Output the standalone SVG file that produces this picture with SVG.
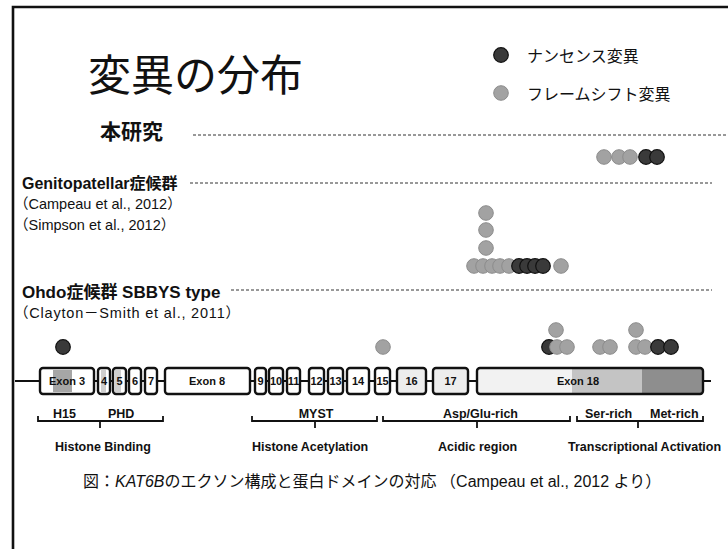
<svg xmlns="http://www.w3.org/2000/svg" width="728" height="549" viewBox="0 0 728 549">
<style>
.jp{font-family:"Noto Sans CJK JP","Liberation Sans",sans-serif;fill:#111}
.lat{font-family:"Liberation Sans","Noto Sans CJK JP",sans-serif;fill:#111}
.b{font-weight:bold}
.ex{font-family:"Liberation Sans",sans-serif;font-weight:bold;font-size:11px;fill:#111;text-anchor:middle}
.dom{font-family:"Liberation Sans",sans-serif;font-weight:bold;font-size:12.5px;fill:#111}
.box{fill:#fff;stroke:#111;stroke-width:2.4}
.lt{fill:#a2a2a2;stroke:#8c8c8c;stroke-width:1}
.dk{fill:#3a3a3a;stroke:#111;stroke-width:1.2}
.dash{stroke:#333;stroke-width:1;stroke-dasharray:3 2;fill:none}
.br{fill:none;stroke:#111;stroke-width:1.8}
</style>
<rect width="728" height="549" fill="#fff"/>
<path d="M13,549 V7 H728" fill="none" stroke="#111" stroke-width="2.6"/>

<g id="title"><text class="jp" x="88" y="91" font-size="43">変異の分布</text></g>

<g id="legend">
<circle class="dk" cx="501" cy="55" r="7.3"/>
<text class="jp" x="527" y="62" font-size="16">ナンセンス変異</text>
<circle class="lt" cx="501" cy="93" r="7.3"/>
<text class="jp" x="527" y="100" font-size="16">フレームシフト変異</text>
</g>

<g id="connectors">
<line class="dash" x1="193" y1="135" x2="726" y2="135"/>
<line class="dash" x1="190" y1="183" x2="712" y2="183"/>
<line class="dash" x1="231" y1="290" x2="712" y2="290"/>
<line x1="15" y1="381" x2="711" y2="381" stroke="#111" stroke-width="2"/>
</g>

<g id="study-this">
<text class="jp b" x="100" y="139" font-size="21">本研究</text>
</g>
<g id="study-genito">
<text class="lat b" x="22" y="189" font-size="16">Genitopatellar症候群</text>
<text class="lat" x="14" y="209" font-size="14.5">（Campeau et al., 2012）</text>
<text class="lat" x="14" y="230" font-size="14.5">（Simpson et al., 2012）</text>
</g>
<g id="study-ohdo">
<text class="lat b" x="22" y="298" font-size="17">Ohdo症候群 SBBYS type</text>
<text class="lat" x="14" y="318" font-size="14.5" textLength="226">（Clayton－Smith et al., 2011）</text>
</g>

<g id="dots-this">
<circle class="lt" cx="604" cy="157" r="7.3"/>
<circle class="lt" cx="619" cy="157" r="7.3"/>
<circle class="lt" cx="630" cy="157" r="7.3"/>
<circle class="dk" cx="646" cy="157" r="7.3"/>
<circle class="dk" cx="657" cy="157" r="7.3"/>
</g>

<g id="dots-genito">
<circle class="lt" cx="486" cy="213" r="7.3"/>
<circle class="lt" cx="486" cy="230" r="7.3"/>
<circle class="lt" cx="486" cy="248" r="7.3"/>
<circle class="lt" cx="474" cy="266" r="7.3"/>
<circle class="lt" cx="483" cy="266" r="7.3"/>
<circle class="lt" cx="492" cy="266" r="7.3"/>
<circle class="lt" cx="500" cy="266" r="7.3"/>
<circle class="lt" cx="509" cy="266" r="7.3"/>
<circle class="dk" cx="519" cy="266" r="7.3"/>
<circle class="dk" cx="527" cy="266" r="7.3"/>
<circle class="dk" cx="535" cy="266" r="7.3"/>
<circle class="dk" cx="543" cy="266" r="7.3"/>
<circle class="lt" cx="561" cy="266" r="7.3"/>
</g>

<g id="dots-ohdo">
<circle class="dk" cx="63" cy="347" r="7.3"/>
<circle class="lt" cx="383" cy="347" r="7.3"/>
<circle class="lt" cx="556" cy="330" r="7.3"/>
<circle class="dk" cx="549" cy="347" r="7.3"/>
<circle class="lt" cx="557" cy="347" r="7.3"/>
<circle class="lt" cx="567" cy="347" r="7.3"/>
<circle class="lt" cx="600" cy="347" r="7.3"/>
<circle class="lt" cx="610" cy="347" r="7.3"/>
<circle class="lt" cx="636" cy="330" r="7.3"/>
<circle class="lt" cx="636" cy="347" r="7.3"/>
<circle class="lt" cx="645" cy="347" r="7.3"/>
<circle class="dk" cx="658" cy="347" r="7.3"/>
<circle class="dk" cx="671" cy="347" r="7.3"/>
</g>

<g id="exon3"><rect class="box" x="40" y="368" width="54" height="26" rx="3"/><rect x="53" y="370" width="19" height="22" fill="#a6a6a6"/><text class="ex" x="67" y="385">Exon 3</text></g>
<g id="exon4"><rect class="box" x="98" y="368" width="12" height="26" rx="3"/><rect x="101" y="370" width="5" height="22" fill="#cfcfcf"/><text class="ex" x="104" y="385">4</text></g>
<g id="exon5"><rect class="box" x="113" y="368" width="13" height="26" rx="3"/><rect x="115" y="370" width="6" height="22" fill="#cfcfcf"/><text class="ex" x="119.5" y="385">5</text></g>
<g id="exon6"><rect class="box" x="129" y="368" width="12" height="26" rx="3"/><text class="ex" x="135" y="385">6</text></g>
<g id="exon7"><rect class="box" x="145" y="368" width="12" height="26" rx="3"/><text class="ex" x="151" y="385">7</text></g>
<g id="exon8"><rect class="box" x="165" y="368" width="85" height="26" rx="3"/><text class="ex" x="207" y="385">Exon 8</text></g>
<g id="exon9"><rect class="box" x="255" y="368" width="11" height="26" rx="3"/><text class="ex" x="260.5" y="385">9</text></g>
<g id="exon10"><rect class="box" x="269" y="368" width="14" height="26" rx="3"/><text class="ex" x="276" y="385">10</text></g>
<g id="exon11"><rect class="box" x="287" y="368" width="13" height="26" rx="3"/><text class="ex" x="293.5" y="385">11</text></g>
<g id="exon12"><rect class="box" x="309" y="368" width="15" height="26" rx="3"/><text class="ex" x="316.5" y="385">12</text></g>
<g id="exon13"><rect class="box" x="328" y="368" width="15" height="26" rx="3"/><text class="ex" x="335.5" y="385">13</text></g>
<g id="exon14"><rect class="box" x="347" y="368" width="22" height="26" rx="3"/><text class="ex" x="358" y="385">14</text></g>
<g id="exon15"><rect class="box" x="375" y="368" width="15" height="26" rx="3"/><text class="ex" x="382.5" y="385">15</text></g>
<g id="exon16"><rect class="box" x="397" y="368" width="29" height="26" rx="3" style="fill:#ededed"/><text class="ex" x="411.5" y="385">16</text></g>
<g id="exon17"><rect class="box" x="433" y="368" width="35" height="26" rx="3" style="fill:#ededed"/><text class="ex" x="450.5" y="385">17</text></g>
<g id="exon18">
<rect x="477" y="368" width="95" height="26" fill="#f2f2f2"/>
<rect x="572" y="368" width="70" height="26" fill="#c4c4c4"/>
<rect x="642" y="368" width="61" height="26" fill="#8e8e8e"/>
<rect class="box" x="477" y="368" width="226" height="26" rx="3" style="fill:none"/>
<text class="ex" x="578" y="385">Exon 18</text>
</g>

<g id="domain-binding">
<text class="dom" x="53" y="418">H15</text>
<text class="dom" x="108" y="418">PHD</text>
<path class="br" d="M38,416 V421 H163 V416 M100,421 V428"/>
<text class="dom" x="55" y="451">Histone Binding</text>
</g>
<g id="domain-acetylation">
<text class="dom" x="316" y="418" text-anchor="middle">MYST</text>
<path class="br" d="M252,416 V421 H377 V416 M315,421 V428"/>
<text class="dom" x="252" y="451">Histone Acetylation</text>
</g>
<g id="domain-acidic">
<text class="dom" x="443" y="418">Asp/Glu-rich</text>
<path class="br" d="M383,416 V421 H570 V416 M477,421 V428"/>
<text class="dom" x="438" y="451">Acidic region</text>
</g>
<g id="domain-activation">
<text class="dom" x="585" y="418">Ser-rich</text>
<text class="dom" x="650" y="418">Met-rich</text>
<path class="br" d="M577,416 V421 H703 V416 M638,421 V428"/>
<text class="dom" x="568" y="451">Transcriptional Activation</text>
</g>

<g id="caption">
<text class="jp" x="83" y="487" font-size="16">図：<tspan font-family="Liberation Sans" font-style="italic">KAT6B</tspan>のエクソン構成と蛋白ドメインの対応 （<tspan font-family="Liberation Sans">Campeau et al., 2012 </tspan>より）</text>
</g>
</svg>
